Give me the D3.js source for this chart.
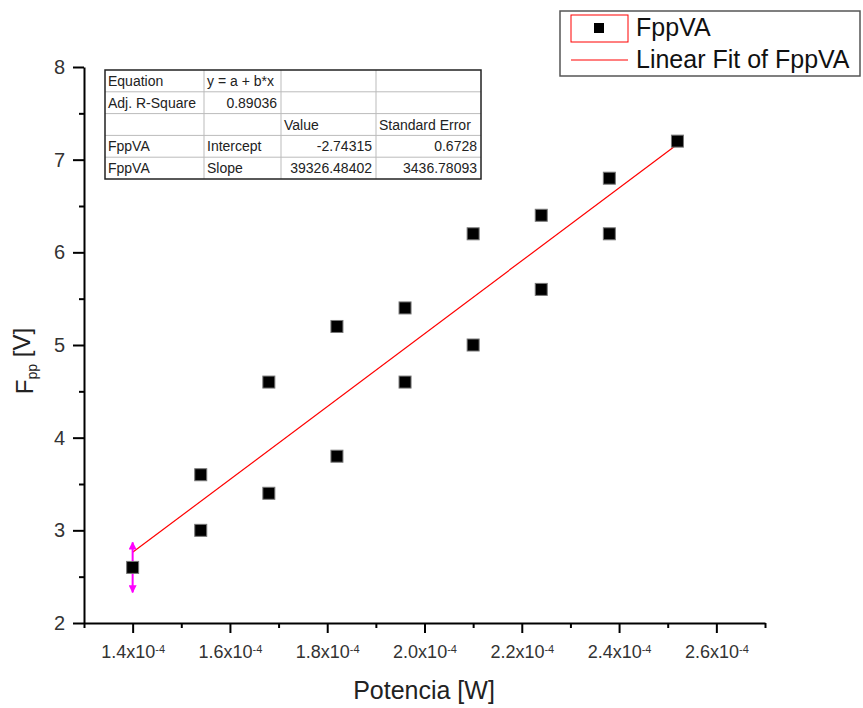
<!DOCTYPE html>
<html>
<head>
<meta charset="utf-8">
<script src="https://cdn.jsdelivr.net/npm/d3@7"></script>
<style>
body { margin: 0; background: #fff; }
svg { display: block; font-family: "Liberation Sans", Arial, sans-serif; }
.axis path, .axis line { stroke: #000; }
</style>
</head>
<body>
<svg id="chart" width="863" height="708"></svg>
<script>
// data
var potencia = [1.40e-4, 1.54e-4, 1.54e-4, 1.68e-4, 1.68e-4, 1.82e-4, 1.82e-4, 1.96e-4, 1.96e-4,
                2.10e-4, 2.10e-4, 2.24e-4, 2.24e-4, 2.38e-4, 2.38e-4, 2.52e-4];
var fpp = [2.6, 3.6, 3.0, 4.6, 3.4, 5.2, 3.8, 5.4, 4.6, 6.2, 5.0, 6.4, 5.6, 6.8, 6.2, 7.2];
var errX = [1.40e-4];
var errY = [2.6];
var errHalf = [0.27];

var fitIntercept = -2.74315;
var fitSlope = 39326.48402;

var xTicks = [1.4e-4, 1.6e-4, 1.8e-4, 2.0e-4, 2.2e-4, 2.4e-4, 2.6e-4];
var xMinor = [1.3e-4, 1.5e-4, 1.7e-4, 1.9e-4, 2.1e-4, 2.3e-4, 2.5e-4, 2.7e-4];
var yTicks = [2, 3, 4, 5, 6, 7, 8];
var yMinor = [2.5, 3.5, 4.5, 5.5, 6.5, 7.5];

var tableRows = [
  ["Equation", "y = a + b*x", "", ""],
  ["Adj. R-Square", "0.89036", "", ""],
  ["", "", "Value", "Standard Error"],
  ["FppVA", "Intercept", "-2.74315", "0.6728"],
  ["FppVA", "Slope", "39326.48402", "3436.78093"]
];

var margin = {left: 84, top: 67, right: 98, bottom: 85};
var width = 863 - margin.left - margin.right,
    height = 708 - margin.top - margin.bottom;
var font = '"Liberation Sans", Arial, sans-serif';

var svg = d3.select('#chart');
var chart = svg.append('g')
  .attr('transform', 'translate(' + margin.left + ',' + margin.top + ')');

var x = d3.scaleLinear().domain([1.3e-4, 2.7e-4]).range([0, width]);
var y = d3.scaleLinear().domain([2, 8]).range([height, 0]);

// minor ticks
chart.append('g')
  .attr('class', 'axis')
  .attr('transform', 'translate(0,' + height + ')')
  .call(d3.axisBottom(x).tickValues(xMinor).tickSize(5).tickFormat(''))
  .call(function(g){ g.select('.domain').remove(); })
  .selectAll('line').attr('stroke-width', 2);
chart.append('g')
  .attr('class', 'axis')
  .call(d3.axisLeft(y).tickValues(yMinor).tickSize(5).tickFormat(''))
  .call(function(g){ g.select('.domain').remove(); })
  .selectAll('line').attr('stroke-width', 2);

// major axes
var xAxisG = chart.append('g')
  .attr('class', 'x axis')
  .attr('transform', 'translate(0,' + height + ')')
  .call(d3.axisBottom(x).tickValues(xTicks).tickSize(10).tickSizeOuter(0).tickPadding(8));
xAxisG.select('.domain').attr('stroke-width', 2);
xAxisG.selectAll('line').attr('stroke-width', 2);
xAxisG.selectAll('.tick text')
  .attr('dy', '0.95em')
  .style('font-family', font)
  .style('font-size', '18px')
  .attr('fill', '#333')
  .each(function(d){
    var t = d3.select(this);
    t.text('');
    t.append('tspan').text((d * 1e4).toFixed(1) + 'x10');
    t.append('tspan').attr('dy', '-0.5em').style('font-size', '11px').text('-4');
  });

var yAxisG = chart.append('g')
  .attr('class', 'y axis')
  .call(d3.axisLeft(y).tickValues(yTicks).tickFormat(d3.format('d')).tickSize(11).tickSizeOuter(0).tickPadding(8));
yAxisG.select('.domain').attr('stroke-width', 2);
yAxisG.selectAll('line').attr('stroke-width', 2);
yAxisG.selectAll('.tick text')
  .style('font-family', font)
  .style('font-size', '20px')
  .attr('fill', '#333');

// axis titles
svg.append('text')
  .attr('x', 424)
  .attr('y', 699)
  .attr('text-anchor', 'middle')
  .style('font-size', '25px')
  .attr('fill', '#222')
  .text('Potencia [W]');

var yl = svg.append('text')
  .attr('transform', 'translate(33,361) rotate(-90)')
  .attr('text-anchor', 'middle')
  .style('font-size', '24px')
  .attr('fill', '#222');
yl.append('tspan').text('F');
yl.append('tspan').style('font-size', '14px').attr('dy', '0.3em').text('pp');
yl.append('tspan').attr('dy', '-0.3em').text(' [V]');

// fit line
var xs = d3.extent(potencia);
chart.append('line')
  .attr('x1', x(xs[0])).attr('y1', y(fitIntercept + fitSlope * xs[0]))
  .attr('x2', x(xs[1])).attr('y2', y(fitIntercept + fitSlope * xs[1]))
  .attr('stroke', '#f00')
  .attr('stroke-width', 1.2);

// error arrow
var defs = svg.append('defs');
defs.append('marker')
  .attr('id', 'ah')
  .attr('viewBox', '0 0 10 10')
  .attr('refX', 9).attr('refY', 5)
  .attr('markerWidth', 4).attr('markerHeight', 4)
  .attr('orient', 'auto-start-reverse')
  .append('path').attr('d', 'M0,0L10,5L0,10Z').attr('fill', '#f0f');
errX.forEach(function(ex, i){
  chart.append('line')
    .attr('x1', x(ex)).attr('y1', y(errY[i] - errHalf[i]))
    .attr('x2', x(ex)).attr('y2', y(errY[i] + errHalf[i]))
    .attr('stroke', '#f0f')
    .attr('stroke-width', 2)
    .attr('marker-start', 'url(#ah)')
    .attr('marker-end', 'url(#ah)');
});

// points
var sz = 12;
chart.selectAll('.pt')
  .data(potencia)
  .enter()
  .append('rect')
  .attr('class', 'pt')
  .attr('x', function(d){ return x(d) - sz / 2; })
  .attr('y', function(d, i){ return y(fpp[i]) - sz / 2; })
  .attr('width', sz)
  .attr('height', sz)
  .attr('fill', '#000')
  .attr('stroke', '#777')
  .attr('stroke-width', 1);

// stats table
var colX = [105, 204, 281, 376, 481];
var rowH = 21.8, tTop = 70;
var tbl = svg.append('g').style('font-size', '14px').attr('fill', '#222');
tbl.append('rect')
  .attr('x', colX[0]).attr('y', tTop)
  .attr('width', colX[4] - colX[0]).attr('height', rowH * tableRows.length)
  .attr('fill', '#fff');
for (var r = 1; r < tableRows.length; r++) {
  tbl.append('line')
    .attr('x1', colX[0]).attr('x2', colX[4])
    .attr('y1', tTop + r * rowH).attr('y2', tTop + r * rowH)
    .attr('stroke', '#bbb');
}
for (var c = 1; c < 4; c++) {
  tbl.append('line')
    .attr('x1', colX[c]).attr('x2', colX[c])
    .attr('y1', tTop).attr('y2', tTop + rowH * tableRows.length)
    .attr('stroke', '#bbb');
}
tbl.append('rect')
  .attr('x', colX[0]).attr('y', tTop)
  .attr('width', colX[4] - colX[0]).attr('height', rowH * tableRows.length)
  .attr('fill', 'none').attr('stroke', '#222').attr('stroke-width', 1.5);
tableRows.forEach(function(row, r){
  row.forEach(function(cell, c){
    if (!cell) return;
    var right = (r === 1 && c === 1) || (r >= 3 && c >= 2);
    tbl.append('text')
      .attr('x', right ? colX[c + 1] - 4 : colX[c] + 3)
      .attr('y', tTop + r * rowH + 16)
      .attr('text-anchor', right ? 'end' : 'start')
      .text(cell);
  });
});

// legend
var lg = svg.append('g');
lg.append('rect')
  .attr('x', 560).attr('y', 11).attr('width', 300).attr('height', 65)
  .attr('fill', '#fff').attr('stroke', '#555').attr('stroke-width', 1.5);
lg.append('rect')
  .attr('x', 571).attr('y', 15).attr('width', 57).attr('height', 27)
  .attr('fill', 'none').attr('stroke', '#f00').attr('stroke-width', 1);
lg.append('rect')
  .attr('x', 594).attr('y', 23).attr('width', 10).attr('height', 10)
  .attr('fill', '#000');
lg.append('text')
  .attr('x', 636).attr('y', 36).style('font-size', '25px').attr('fill', '#111')
  .text('FppVA');
lg.append('line')
  .attr('x1', 571).attr('x2', 628).attr('y1', 60).attr('y2', 60)
  .attr('stroke', '#f00').attr('stroke-width', 1);
lg.append('text')
  .attr('x', 636).attr('y', 68).style('font-size', '25px').attr('fill', '#111')
  .text('Linear Fit of FppVA');
</script>
</body>
</html>
